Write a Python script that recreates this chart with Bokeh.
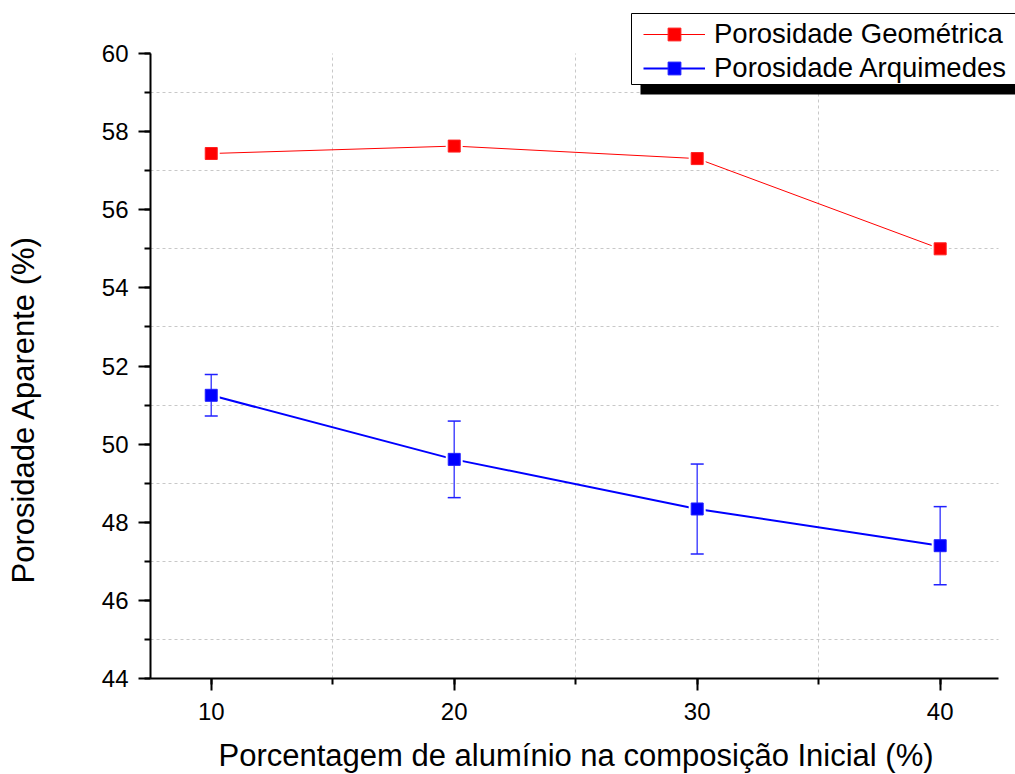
from bokeh.plotting import figure
from bokeh.models import (ColumnDataSource, Legend, LegendItem, BoxAnnotation, Title, LinearAxis,
                          SingleIntervalTicker, FixedTicker, Range1d)
from bokeh.embed import file_html
from bokeh.resources import INLINE

# ---- data ----
aluminio = [10, 20, 30, 40]
por_geometrica = [57.44, 57.63, 57.31, 55.00]
por_arquimedes = [51.25, 49.61, 48.34, 47.40]
erro_arquimedes = [0.53, 0.98, 1.15, 1.00]
x_grid_ticks = [15, 25, 35]
y_grid_ticks = [45, 47, 49, 51, 53, 55, 57, 59]

x_title = "Porcentagem de alumínio na composição Inicial (%)"
y_title = "Porosidade Aparente (%)"
label_geo = "Porosidade Geométrica"
label_arq = "Porosidade Arquimedes"

FONT = "Liberation Sans"

# frame extends to the top/right canvas edges so the legend is not clipped;
# axes use bounds to show only 7.5-42.4 and 44-60
p = figure(width=1015, height=774, output_backend="svg", toolbar_location=None,
           x_range=Range1d(7.5, 43.1), y_range=Range1d(44, 61.357),
           min_border_left=150, min_border_right=0, min_border_top=0, min_border_bottom=96)
p.outline_line_color = None
p.background_fill_color = "white"
p.border_fill_color = "white"

p.xaxis.ticker = SingleIntervalTicker(interval=10, num_minor_ticks=2)
p.yaxis.ticker = SingleIntervalTicker(interval=2, num_minor_ticks=2)
p.xaxis.bounds = (7.5, 42.4)
p.yaxis.bounds = (44, 60)
for ax in (p.xaxis[0], p.yaxis[0]):
    ax.axis_line_width = 2
    ax.axis_line_color = "black"
    ax.major_tick_line_width = 2
    ax.minor_tick_line_width = 2
    ax.major_tick_line_color = "black"
    ax.minor_tick_line_color = "black"
    ax.major_tick_out = 12
    ax.major_tick_in = 0
    ax.minor_tick_out = 6
    ax.minor_tick_in = 0
    ax.major_label_text_font = FONT
    ax.major_label_text_font_size = "24px"
    ax.major_label_text_color = "black"
p.xaxis.major_label_standoff = 12
p.yaxis.major_label_standoff = 10

# grids at the minor positions, limited to the axes extent
p.xgrid.ticker = FixedTicker(ticks=x_grid_ticks)
p.ygrid.ticker = FixedTicker(ticks=y_grid_ticks)
p.xgrid.cross_bounds = (44, 60)
p.ygrid.cross_bounds = (7.5, 42.4)
for g in (p.xgrid[0], p.ygrid[0]):
    g.grid_line_color = "#c8c8c8"
    g.grid_line_dash = "3 3"
    g.grid_line_width = 1

# data sources
src_geo = ColumnDataSource(dict(x=aluminio, y=por_geometrica))
src_arq = ColumnDataSource(dict(
    x=aluminio, y=por_arquimedes,
    upper=[v + e for v, e in zip(por_arquimedes, erro_arquimedes)],
    lower=[v - e for v, e in zip(por_arquimedes, erro_arquimedes)]))

geo_line = p.line("x", "y", source=src_geo, line_color="#ff0000", line_width=1)
p.scatter("x", "y", source=src_geo, marker="square", size=17, fill_color="white", line_color=None)
geo_mark = p.scatter("x", "y", source=src_geo, marker="square", size=12,
                     fill_color="#ff0000", line_color="#ff2020", line_width=1)

arq_line = p.line("x", "y", source=src_arq, line_color="#0000ff", line_width=2)
p.scatter("x", "y", source=src_arq, marker="square", size=17, fill_color="white", line_color=None)
p.segment(x0="x", y0="lower", x1="x", y1="upper", source=src_arq, line_color="#4a4aff", line_width=1.5)
p.scatter("x", "upper", source=src_arq, marker="dash", size=13, line_color="#2020ff", line_width=1.5)
p.scatter("x", "lower", source=src_arq, marker="dash", size=13, line_color="#2020ff", line_width=1.5)
arq_mark = p.scatter("x", "y", source=src_arq, marker="square", size=12,
                     fill_color="#0000ff", line_color="#2020ff", line_width=1)

# legend box with its shadow
cu = dict(left_units="canvas", right_units="canvas", top_units="canvas", bottom_units="canvas")
p.add_layout(BoxAnnotation(left=640, right=1300, top=22, bottom=94, fill_color="black",
                           fill_alpha=1.0, line_color=None, **cu))
p.add_layout(BoxAnnotation(left=631, right=1300, top=13, bottom=84, fill_color="white",
                           fill_alpha=1.0, line_color="black", line_width=1, line_alpha=1.0, **cu))

legend = Legend(items=[LegendItem(label=label_geo, renderers=[geo_line, geo_mark]),
                       LegendItem(label=label_arq, renderers=[arq_line, arq_mark])],
                location=(493, 594), padding=0, spacing=2, margin=0,
                label_height=32, glyph_height=32, glyph_width=62, label_standoff=9,
                border_line_color=None, background_fill_alpha=0,
                label_text_font=FONT, label_text_font_size="27.5px", label_text_color="black")
p.add_layout(legend, "center")

# spacer axes (one white, label-less tick) that push the titles outward
def spacer(size, tick):
    return LinearAxis(ticker=FixedTicker(ticks=[tick]), axis_line_color=None,
                      major_tick_line_color="white", major_tick_line_width=1,
                      minor_tick_line_color=None,
                      major_tick_out=size, major_tick_in=0, minor_tick_out=0, minor_tick_in=0,
                      major_label_standoff=0, major_label_overrides={tick: ""},
                      major_label_text_font_size="1px")

p.add_layout(spacer(56, 45), "left")
p.add_layout(Title(text=y_title, align="left", offset=95, vertical_align="top", standoff=0,
                   text_font=FONT, text_font_size="31px", text_font_style="normal",
                   text_color="black"), "left")

p.add_layout(spacer(15, 25), "below")
p.add_layout(Title(text=x_title, align="left", offset=68, vertical_align="top", standoff=0,
                   text_font=FONT, text_font_size="31px", text_font_style="normal",
                   text_color="black"), "below")

open("out.html", "w").write(file_html(p, INLINE))
